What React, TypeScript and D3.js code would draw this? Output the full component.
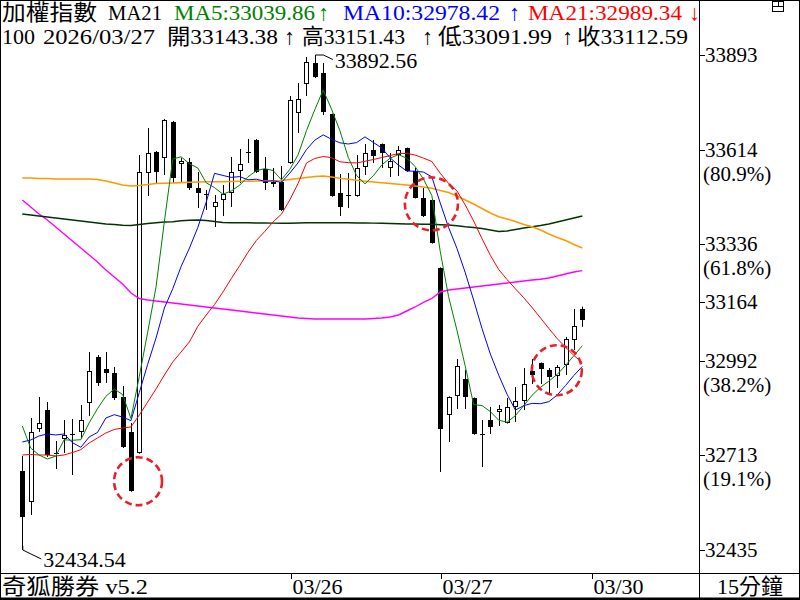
import React from 'react';
import * as d3 from 'd3';

// ---- candle data (15-min bars) ----
const opens = [32667.3, 32576.0, 32791.0, 32846.9, 32720.3, 32761.5, 32776.0, 32782.3, 32867.6, 33003.1, 32967.7, 32955.9, 32885.2, 32782.3, 32720.3, 33545.0, 33606.9, 33589.2, 33695.2, 33571.5, 33577.4, 33500.8, 33483.2, 33444.9, 33465.5, 33486.1, 33550.9, 33606.9, 33642.2, 33556.8, 33512.6, 33518.5, 33574.5, 33721.8, 33807.2, 33869.0, 33839.6, 33718.8, 33486.1, 33480.2, 33477.3, 33562.7, 33612.8, 33630.4, 33559.8, 33598.0, 33618.7, 33550.9, 33471.4, 33465.5, 33265.2, 32832.2, 32888.2, 32938.3, 32882.3, 32776.3, 32817.5, 32841.1, 32808.7, 32855.8, 32873.5, 32961.8, 32985.4, 32964.8, 32947.1, 32979.5, 33053.1, 33143.38];
const highs = [32711.4, 32823.4, 32885.2, 32870.5, 32755.6, 32817.5, 32820.4, 32861.7, 33017.8, 33008.9, 33017.8, 32973.6, 32917.6, 32808.7, 33598.0, 33677.6, 33609.8, 33704.1, 33698.2, 33589.2, 33589.2, 33548.0, 33495.0, 33480.2, 33509.7, 33592.2, 33615.7, 33645.2, 33645.2, 33592.2, 33559.8, 33565.6, 33771.8, 33810.1, 33886.7, 33892.56, 33869.0, 33720.0, 33542.1, 33545.0, 33598.0, 33630.4, 33642.2, 33632.0, 33603.9, 33624.6, 33620.0, 33559.8, 33500.8, 33467.0, 33267.0, 32887.0, 32997.2, 32964.8, 32884.0, 32817.5, 32855.8, 32861.7, 32882.3, 32914.7, 32970.6, 32997.2, 32987.0, 32970.6, 32979.5, 33062.0, 33144.4, 33151.43];
const lows = [32434.54, 32537.7, 32782.3, 32708.5, 32673.2, 32720.3, 32655.5, 32761.5, 32829.3, 32917.6, 32926.5, 32876.4, 32735.0, 32606.0, 32718.0, 33477.3, 33515.6, 33539.1, 33515.6, 33518.5, 33495.0, 33441.9, 33436.0, 33386.0, 33418.4, 33444.9, 33515.6, 33574.5, 33545.0, 33495.0, 33503.8, 33433.0, 33572.0, 33662.8, 33771.8, 33824.9, 33715.9, 33475.0, 33418.4, 33441.9, 33475.0, 33539.1, 33574.5, 33559.8, 33533.2, 33536.2, 33548.0, 33470.0, 33415.4, 33337.0, 32664.3, 32752.7, 32849.9, 32849.9, 32774.0, 32679.0, 32776.3, 32799.8, 32807.0, 32811.6, 32846.9, 32923.5, 32923.5, 32897.0, 32911.7, 32950.0, 33023.7, 33091.99];
const closes = [32531.8, 32782.3, 32808.7, 32714.4, 32717.3, 32773.3, 32775.0, 32817.5, 32961.8, 32926.5, 32955.9, 32880.8, 32738.0, 32608.4, 33548.0, 33603.9, 33548.0, 33701.1, 33530.3, 33580.4, 33500.8, 33486.1, 33483.2, 33459.6, 33483.2, 33548.0, 33571.5, 33606.9, 33548.0, 33515.6, 33518.5, 33436.0, 33760.0, 33763.0, 33872.0, 33827.8, 33724.7, 33477.3, 33444.9, 33480.2, 33559.8, 33603.9, 33595.1, 33603.9, 33580.4, 33612.8, 33550.9, 33471.4, 33418.4, 33338.8, 32791.0, 32885.2, 32976.5, 32885.2, 32776.3, 32776.3, 32796.9, 32849.9, 32855.8, 32873.5, 32923.5, 32950.0, 32967.7, 32944.1, 32973.6, 33056.1, 33094.4, 33112.59];

// ---- moving averages as drawn ----
const ma5 = [32799.8, 32735.0, 32714.4, 32702.6, 32710.9, 32759.2, 32757.7, 32759.5, 32809.0, 32850.8, 32887.3, 32908.5, 32892.6, 32821.9, 32946.2, 33075.8, 33209.3, 33401.9, 33586.3, 33592.7, 33572.1, 33559.7, 33516.2, 33502.0, 33482.6, 33492.0, 33509.1, 33533.8, 33551.5, 33558.0, 33552.1, 33525.0, 33555.6, 33598.6, 33669.9, 33731.8, 33789.5, 33733.0, 33669.3, 33591.0, 33537.4, 33513.2, 33536.8, 33568.6, 33588.6, 33599.2, 33588.6, 33563.9, 33526.8, 33478.5, 33314.1, 33181.0, 33082.0, 32975.3, 32862.8, 32859.9, 32842.2, 32816.9, 32811.0, 32830.5, 32859.9, 32890.5, 32914.1, 32931.8, 32951.8, 32978.3, 33007.2, 33036.2];
const ma10 = [32752.7, 32758.6, 32770.4, 32776.3, 32773.3, 32776.3, 32750.6, 32737.1, 32767.4, 32780.9, 32823.3, 32833.1, 32826.1, 32815.5, 32898.5, 32981.6, 33058.9, 33147.2, 33204.1, 33269.5, 33324.0, 33384.5, 33459.0, 33544.1, 33537.7, 33532.1, 33534.4, 33525.0, 33526.8, 33520.3, 33522.1, 33517.1, 33544.7, 33575.1, 33614.0, 33641.9, 33657.3, 33644.3, 33634.0, 33630.4, 33634.6, 33651.4, 33634.9, 33619.0, 33589.8, 33568.3, 33550.9, 33550.3, 33547.7, 33533.5, 33456.7, 33384.8, 33322.9, 33251.1, 33170.7, 33087.0, 33011.6, 32949.5, 32893.2, 32846.7, 32859.9, 32866.4, 32865.5, 32871.4, 32891.1, 32919.1, 32948.9, 32975.1];
const ma21 = [32714.4, 32715.9, 32714.4, 32714.4, 32711.4, 32714.4, 32721.7, 32730.1, 32749.7, 32764.5, 32779.2, 32789.5, 32793.9, 32796.9, 32832.2, 32870.5, 32908.8, 32950.0, 32988.3, 33017.8, 33047.8, 33093.3, 33126.6, 33157.6, 33194.2, 33233.8, 33271.8, 33311.4, 33346.2, 33372.6, 33400.8, 33423.6, 33465.5, 33514.3, 33574.5, 33587.8, 33593.6, 33590.2, 33578.0, 33575.6, 33574.6, 33579.5, 33584.7, 33590.5, 33596.2, 33602.4, 33602.5, 33597.8, 33588.8, 33578.8, 33544.3, 33514.2, 33492.3, 33450.6, 33403.6, 33351.5, 33302.4, 33260.7, 33231.1, 33203.9, 33177.4, 33148.4, 33118.1, 33087.1, 33057.1, 33032.1, 33007.4, 32986.5];
const maOrange = [33530.3, 33530.3, 33528.8, 33528.8, 33527.4, 33527.4, 33527.4, 33527.4, 33527.4, 33525.9, 33521.5, 33515.6, 33509.7, 33506.7, 33508.2, 33511.2, 33514.1, 33514.7, 33515.6, 33516.5, 33517.6, 33518.5, 33519.1, 33519.4, 33519.4, 33520.0, 33520.6, 33520.9, 33521.5, 33521.5, 33522.3, 33522.9, 33525.9, 33528.8, 33531.8, 33534.7, 33536.2, 33533.2, 33529.4, 33526.5, 33523.5, 33520.9, 33518.5, 33516.5, 33514.1, 33512.0, 33509.7, 33506.7, 33503.8, 33500.0, 33493.5, 33487.6, 33477.3, 33465.5, 33453.7, 33440.5, 33427.2, 33416.3, 33409.5, 33402.2, 33393.3, 33386.8, 33377.1, 33365.4, 33355.0, 33346.2, 33334.4, 33324.1];
const maDkGreen = [33424.3, 33421.3, 33418.4, 33415.4, 33412.5, 33409.5, 33406.6, 33403.7, 33400.7, 33397.7, 33394.8, 33393.3, 33391.0, 33390.4, 33393.3, 33396.3, 33398.6, 33400.7, 33401.6, 33404.2, 33406.0, 33406.6, 33405.1, 33402.2, 33399.2, 33398.6, 33398.6, 33398.3, 33397.7, 33397.7, 33397.2, 33396.9, 33396.9, 33397.7, 33398.3, 33398.6, 33398.6, 33398.6, 33398.6, 33398.3, 33397.7, 33397.7, 33397.2, 33396.9, 33396.3, 33395.7, 33394.8, 33394.8, 33394.2, 33393.9, 33392.7, 33391.9, 33389.8, 33386.8, 33384.5, 33381.6, 33377.1, 33372.7, 33374.2, 33378.6, 33383.0, 33386.8, 33390.4, 33394.8, 33400.7, 33406.6, 33412.5, 33418.4];
const maMagenta = [33465.5, 33444.9, 33424.3, 33406.6, 33386.0, 33365.4, 33344.7, 33324.1, 33303.5, 33282.9, 33259.3, 33238.7, 33218.1, 33191.6, 33175.4, 33170.9, 33168.0, 33165.1, 33162.1, 33159.2, 33156.2, 33153.3, 33150.3, 33147.4, 33144.4, 33141.5, 33138.5, 33135.6, 33132.6, 33129.7, 33126.8, 33123.8, 33120.9, 33117.9, 33116.5, 33115.0, 33115.0, 33115.0, 33115.0, 33115.0, 33115.0, 33115.0, 33116.5, 33117.9, 33120.9, 33126.8, 33138.5, 33150.3, 33163.6, 33175.4, 33194.5, 33200.4, 33203.4, 33206.3, 33209.2, 33212.2, 33215.1, 33218.1, 33221.0, 33224.0, 33226.9, 33229.9, 33231.9, 33235.8, 33241.6, 33247.5, 33253.4, 33257.3];

// ---- axis / labels ----
const yTicks = [33893, 33614, 33336, 33164, 32992, 32713, 32435];
const yTickPct = ['', '(80.9%)', '(61.8%)', '', '(38.2%)', '(19.1%)', ''];
const dateIdx = [32, 50, 68];
const dateText = ['03/26', '03/27', '03/30'];
const hiIdx = 35, hiVal = 33892.56;
const loIdx = 0, loVal = 32434.54;
const circleIdx = [13.85, 48.95, 63.95];
const circleVal = [32637, 33454, 32964];
const circleR = [24, 26.5, 25];

const FONT = "'Liberation Serif','Times New Roman','Noto Sans CJK TC',serif";

export default function App() {
  const x = d3.scaleLinear().domain([0, 67]).range([22.3, 582.3]);
  const y = d3.scaleLinear().domain([loVal, hiVal]).range([550, 55]);
  const line = d3.line<number>().x((_, i) => x(i)).y((d) => y(d));

  const candles = closes.map((c, i) => {
    const o = opens[i];
    const cx = Math.round(x(i));
    const yh = y(highs[i]);
    const yl = y(lows[i]);
    const doji = Math.abs(c - o) < 4;
    const up = c > o;
    const top = Math.round(y(Math.max(o, c)));
    const bot = Math.round(y(Math.min(o, c)));
    return (
      <g key={i}>
        <line x1={cx + 0.5} x2={cx + 0.5} y1={yh} y2={yl} stroke="#000" strokeWidth={1} />
        {doji ? (
          <line x1={cx - 2} x2={cx + 3} y1={top + 0.5} y2={top + 0.5} stroke="#000" strokeWidth={1} />
        ) : up ? (
          <rect x={cx - 1.5} y={top + 0.5} width={4} height={Math.max(1, bot - top - 1)} fill="#fff" stroke="#000" strokeWidth={1} />
        ) : (
          <rect x={cx - 2} y={top} width={5} height={Math.max(1, bot - top)} fill="#000" />
        )}
      </g>
    );
  });

  const hx = x(hiIdx), hy = y(hiVal);
  const lx = x(loIdx), ly = y(loVal);

  return (
    <svg width={800} height={600} style={{ position: 'absolute', left: 0, top: 0, display: 'block', background: '#fff' }} fontFamily={FONT}>
      <defs>
        <clipPath id="plotClip">
          <rect x={0} y={0} width={699} height={573} />
        </clipPath>
      </defs>
      <rect x={0} y={0} width={800} height={600} fill="#fff" />

      <g clipPath="url(#plotClip)">
        {candles}
        <path d={line(maMagenta) || ''} fill="none" stroke="#ff00ff" strokeWidth={1.4} />
        <path d={line(maDkGreen) || ''} fill="none" stroke="#003300" strokeWidth={1.4} />
        <path d={line(maOrange) || ''} fill="none" stroke="#ff9900" strokeWidth={1.6} />
        <path d={line(ma21) || ''} fill="none" stroke="#ff0000" strokeWidth={1} />
        <path d={line(ma10) || ''} fill="none" stroke="#0000ff" strokeWidth={1} />
        <path d={line(ma5) || ''} fill="none" stroke="#008000" strokeWidth={1} />

        {/* high / low leaders */}
        <polyline points={`${hx + 0.5},${hy} ${hx + 8.5},${hy} ${hx + 18},${hy + 4.5}`} fill="none" stroke="#000" strokeWidth={1} />
        <text x={hx + 20} y={hy + 13} fontSize={22} fill="#000">{hiVal.toFixed(2)}</text>
        <polyline points={`${lx + 0.5},${ly - 4} ${lx + 0.5},${ly} ${lx + 19},${ly + 9}`} fill="none" stroke="#000" strokeWidth={1} />
        <text x={lx + 21} y={ly + 17} fontSize={22} fill="#000">{loVal.toFixed(2)}</text>

        {circleIdx.map((ci, k) => (
          <circle key={k} cx={x(ci)} cy={y(circleVal[k])} r={circleR[k]} fill="none" stroke="#e8202a" strokeWidth={2.6} strokeDasharray="7 4" />
        ))}
      </g>

      {/* header */}
      <g fontSize={22}>
        <text x={2} y={20} fill="#000" textLength={95} lengthAdjust="spacingAndGlyphs">加權指數</text>
        <text x={108} y={20} fill="#000" textLength={54} lengthAdjust="spacingAndGlyphs">MA21</text>
        <text x={174} y={20} fill="#008000" textLength={141} lengthAdjust="spacingAndGlyphs">MA5:33039.86</text>
        <text x={318} y={20} fill="#008000">↑</text>
        <text x={343} y={20} fill="#0000ff" textLength={157} lengthAdjust="spacingAndGlyphs">MA10:32978.42</text>
        <text x={509} y={20} fill="#0000ff">↑</text>
        <text x={528} y={20} fill="#ff0000" textLength={154} lengthAdjust="spacingAndGlyphs">MA21:32989.34</text>
        <text x={689} y={20} fill="#ff0000">↓</text>

        <text x={2} y={44} fill="#000" textLength={33} lengthAdjust="spacingAndGlyphs">100</text>
        <text x={43} y={44} fill="#000" textLength={112} lengthAdjust="spacingAndGlyphs">2026/03/27</text>
        <text x={167} y={44} fill="#000" textLength={111} lengthAdjust="spacingAndGlyphs">開33143.38</text>
        <text x={284} y={44} fill="#000">↑</text>
        <text x={302} y={44} fill="#000" textLength={103} lengthAdjust="spacingAndGlyphs">高33151.43</text>
        <text x={422} y={44} fill="#000">↑</text>
        <text x={438} y={44} fill="#000" textLength={114} lengthAdjust="spacingAndGlyphs">低33091.99</text>
        <text x={562} y={44} fill="#000">↑</text>
        <text x={577} y={44} fill="#000" textLength={111} lengthAdjust="spacingAndGlyphs">收33112.59</text>
      </g>

      {/* right axis */}
      <line x1={699.5} x2={699.5} y1={0} y2={600} stroke="#000" strokeWidth={1} />
      {yTicks.map((t, k) => {
        const ty = Math.round(y(t)) + 0.5;
        return (
          <g key={k}>
            <line x1={699} x2={705} y1={ty} y2={ty} stroke="#000" strokeWidth={1} />
            <text x={705} y={ty + 6.5} fontSize={21} fill="#000">{t}</text>
            {yTickPct[k] ? <text x={703} y={ty + 30} fontSize={21} fill="#000">{yTickPct[k]}</text> : null}
          </g>
        );
      })}

      {/* top-right icon */}
      <g stroke="#000" strokeWidth={1} fill="none">
        <rect x={772.5} y={1.5} width={11} height={10} />
        <line x1={772.5} x2={783.5} y1={6.5} y2={6.5} />
        <line x1={778.5} x2={778.5} y1={1.5} y2={6.5} />
      </g>

      {/* bottom strip */}
      <line x1={0} x2={800} y1={573.5} y2={573.5} stroke="#000" strokeWidth={1} />
      <text x={2} y={594} fontSize={22} fill="#000" textLength={146} lengthAdjust="spacingAndGlyphs">奇狐勝券 v5.2</text>
      {dateIdx.map((di, k) => {
        const dx = Math.round(x(di)) + 1.5;
        return (
          <g key={k}>
            <line x1={dx} x2={dx} y1={573} y2={579} stroke="#000" strokeWidth={1} />
            <text x={dx + 1} y={594} fontSize={22} fill="#000">{dateText[k]}</text>
          </g>
        );
      })}
      <text x={750} y={594} fontSize={22} fill="#000" textAnchor="middle">15分鐘</text>

      {/* outer border */}
      <rect x={0.5} y={0.5} width={799} height={599} fill="none" stroke="#000" strokeWidth={1} />
      <line x1={0} x2={800} y1={598.5} y2={598.5} stroke="#000" strokeWidth={2} />
    </svg>
  );
}
